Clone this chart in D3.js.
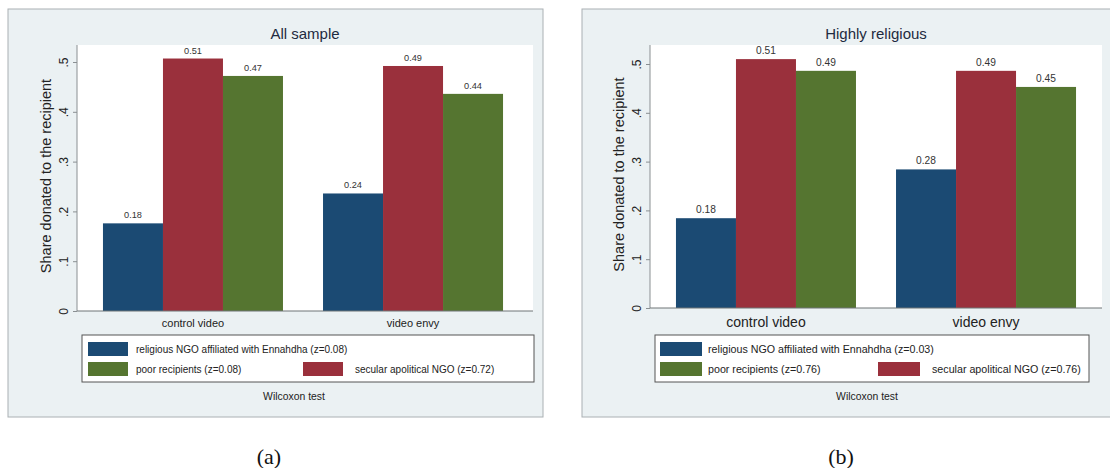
<!DOCTYPE html>
<html>
<head>
<meta charset="utf-8">
<script src="https://cdn.jsdelivr.net/npm/d3@7"></script>
<style>
  body { margin: 0; background: #fff; }
  text { font-family: "Liberation Sans", Arial, sans-serif; }
</style>
</head>
<body>
<div id="chart"></div>
<script>
// categories and series
const groups = ["control video", "video envy"];
const seriesNames = ["religious NGO affiliated with Ennahdha", "secular apolitical NGO", "poor recipients"];

// (a) All sample
const allReligious = [0.176, 0.236];
const allSecular = [0.507, 0.492];
const allPoor = [0.472, 0.436];
const allZ = [0.08, 0.72, 0.08];

// (b) Highly religious
const highReligious = [0.184, 0.284];
const highSecular = [0.510, 0.486];
const highPoor = [0.486, 0.453];
const highZ = [0.03, 0.76, 0.76];

const yTicks = [0, 0.1, 0.2, 0.3, 0.4, 0.5];
const yTickLabels = ["0", ".1", ".2", ".3", ".4", ".5"];

const colors = ["#1b4a73", "#9a303c", "#557530"];

const svg = d3.select("#chart").append("svg")
    .attr("width", 1110)
    .attr("height", 468);

function drawPanel(p) {
    const g = svg.append("g");

    // outer graph region
    g.append("rect")
        .attr("x", p.fx).attr("y", 9)
        .attr("width", 535).attr("height", 408)
        .attr("fill", "#ebf1f3")
        .attr("stroke", "#aab0b3");

    // plot region
    g.append("rect")
        .attr("x", p.x0).attr("y", p.top)
        .attr("width", p.x1 - p.x0).attr("height", p.y0 - p.top)
        .attr("fill", "#fff");

    const x = d3.scaleBand()
        .domain(groups)
        .range([p.x0, p.x0 + 452])
        .paddingInner(0.182)
        .paddingOuter(0.118);
    const xs = d3.scaleBand()
        .domain(d3.range(seriesNames.length))
        .range([0, x.bandwidth()]);
    const y = d3.scaleLinear()
        .domain([0, 0.5])
        .range([p.y0, p.y5]);

    const rows = [];
    groups.forEach((grp, i) => {
        p.series.forEach((s, k) => rows.push({ grp, k, v: s[i] }));
    });

    // bars
    g.selectAll("rect.bar")
        .data(rows)
        .join("rect")
        .attr("class", "bar")
        .attr("x", d => x(d.grp) + xs(d.k))
        .attr("y", d => y(d.v))
        .attr("width", xs.bandwidth())
        .attr("height", d => y(0) - y(d.v))
        .attr("fill", d => colors[d.k]);

    // value labels
    g.selectAll("text.val")
        .data(rows)
        .join("text")
        .attr("class", "val")
        .attr("x", d => x(d.grp) + xs(d.k) + xs.bandwidth() / 2)
        .attr("y", d => y(d.v) - 5)
        .attr("text-anchor", "middle")
        .style("font-size", p.valSize + "px")
        .attr("fill", "#333")
        .text(d => d.v.toFixed(2));

    // y axis
    g.append("line")
        .attr("x1", p.x0).attr("x2", p.x0)
        .attr("y1", p.top).attr("y2", p.y0)
        .attr("stroke", "#8a8f92");
    const ay = g.append("g")
        .attr("transform", `translate(${p.x0},0)`)
        .call(d3.axisLeft(y)
            .tickValues(yTicks)
            .tickFormat((d, i) => yTickLabels[i])
            .tickSize(4)
            .tickSizeOuter(0));
    ay.select(".domain").remove();
    ay.selectAll("line").attr("stroke", "#8a8f92");
    ay.selectAll("text")
        .attr("x", 0)
        .attr("dy", 0)
        .attr("transform", "translate(-9,0) rotate(-90)")
        .attr("text-anchor", "middle")
        .attr("fill", "#222")
        .style("font-size", "12px")
        .style("font-family", "'Liberation Sans', Arial, sans-serif");

    // baseline
    g.append("line")
        .attr("x1", p.x0).attr("x2", p.x1)
        .attr("y1", p.y0).attr("y2", p.y0)
        .attr("stroke", "#6f7476");

    // category axis
    const ax = g.append("g")
        .attr("transform", `translate(0,${p.y0})`)
        .call(d3.axisBottom(x).tickSize(0).tickPadding(p.catPad));
    ax.select(".domain").remove();
    ax.selectAll("text")
        .attr("fill", "#222")
        .style("font-size", p.catSize + "px")
        .style("font-family", "'Liberation Sans', Arial, sans-serif");

    // y title
    g.append("text")
        .attr("transform", `translate(${p.x0 - 26},${(p.top + p.y0) / 2 - 2}) rotate(-90)`)
        .attr("text-anchor", "middle")
        .style("font-size", "14.5px")
        .attr("fill", "#222")
        .text("Share donated to the recipient");

    // title
    g.append("text")
        .attr("x", (p.x0 + p.x1) / 2)
        .attr("y", 39)
        .attr("text-anchor", "middle")
        .style("font-size", "15px")
        .attr("fill", "#1e2a40")
        .text(p.title);

    // legend
    const L = p.legend;
    g.append("rect")
        .attr("x", L.x).attr("y", 335)
        .attr("width", L.w).attr("height", 47)
        .attr("fill", "#fff")
        .attr("stroke", "#555");
    const items = [
        { k: 0, sx: L.sw, tx: L.tx, row: 0 },
        { k: 2, sx: L.sw, tx: L.tx, row: 1 },
        { k: 1, sx: L.sw2, tx: L.tx2, row: 1 }
    ];
    items.forEach(it => {
        g.append("rect")
            .attr("x", L.x + it.sx)
            .attr("y", 342 + it.row * 20)
            .attr("width", L.swW).attr("height", 14)
            .attr("fill", colors[it.k]);
        g.append("text")
            .attr("x", L.x + it.tx)
            .attr("y", 353 + it.row * 20)
            .style("font-size", L.size + "px")
            .attr("fill", "#222")
            .text(`${seriesNames[it.k]} (z=${p.z[it.k].toFixed(2)})`);
    });

    g.append("text")
        .attr("x", p.noteX)
        .attr("y", 400)
        .attr("text-anchor", "middle")
        .style("font-size", "10.4px")
        .attr("fill", "#222")
        .text("Wilcoxon test");

    // sub caption
    svg.append("text")
        .attr("x", p.capX)
        .attr("y", 464)
        .attr("text-anchor", "middle")
        .style("font-family", "'Liberation Serif', 'DejaVu Serif', serif")
        .style("font-size", "22px")
        .attr("fill", "#111")
        .text(p.caption);
}

drawPanel({
    fx: 8, x0: 77, x1: 533, top: 45, y0: 311, y5: 62,
    title: "All sample",
    series: [allReligious, allSecular, allPoor],
    z: allZ,
    valSize: 9.2, catSize: 11, catPad: 8,
    legend: { x: 82, w: 452, sw: 6, swW: 40, tx: 54, sw2: 221, tx2: 273, size: 10 },
    noteX: 294, capX: 269, caption: "(a)"
});

drawPanel({
    fx: 582, x0: 650, x1: 1102, top: 45, y0: 308, y5: 64,
    title: "Highly religious",
    series: [highReligious, highSecular, highPoor],
    z: highZ,
    valSize: 10.2, catSize: 14, catPad: 9,
    legend: { x: 655, w: 434, sw: 5, swW: 42, tx: 53, sw2: 223, tx2: 277, size: 10.7 },
    noteX: 867, capX: 841, caption: "(b)"
});
</script>
</body>
</html>
